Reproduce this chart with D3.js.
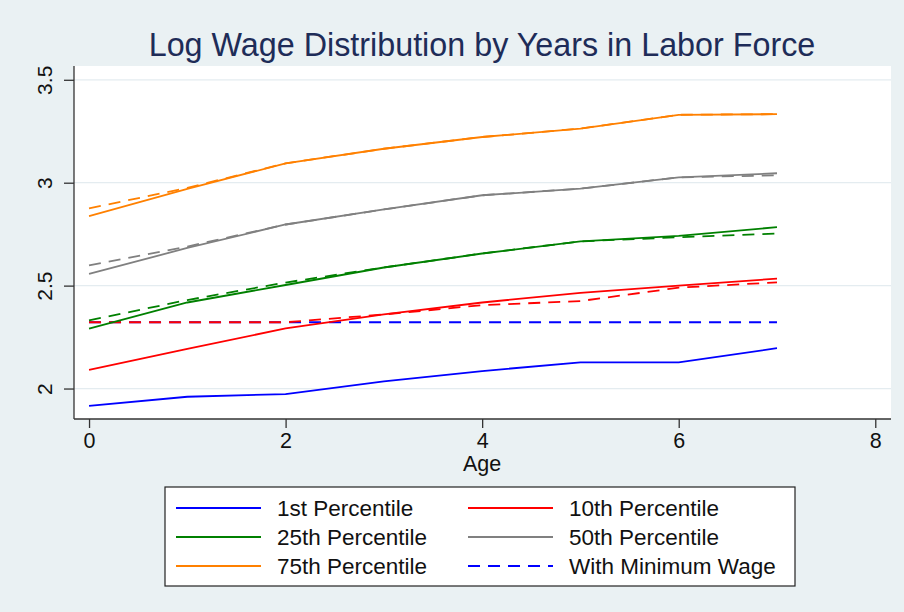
<!DOCTYPE html>
<html>
<head>
<meta charset="utf-8">
<script src="https://cdn.jsdelivr.net/npm/d3@7"></script>
<style>
  body { margin: 0; background: #eaf1f3; }
  svg text { font-family: "Liberation Sans", Arial, sans-serif; }
</style>
</head>
<body>
<svg id="chart" width="904" height="612"></svg>
<script>
// years in labor force
var years = [0, 1, 2, 3, 4, 5, 6, 7]

// log wage percentiles (solid) and with minimum wage (dashed)
var p1  = [1.916, 1.960, 1.973, 2.035, 2.085, 2.127, 2.127, 2.196]
var p10 = [2.091, 2.193, 2.292, 2.360, 2.418, 2.465, 2.500, 2.534]
var p25 = [2.291, 2.418, 2.503, 2.588, 2.656, 2.715, 2.742, 2.784]
var p50 = [2.557, 2.683, 2.797, 2.870, 2.939, 2.971, 3.026, 3.046]
var p75 = [2.838, 2.970, 3.094, 3.165, 3.222, 3.263, 3.330, 3.333]

var mw1  = [2.322, 2.322, 2.322, 2.322, 2.322, 2.322, 2.322, 2.322]
var mw10 = [2.322, 2.322, 2.322, 2.360, 2.405, 2.425, 2.490, 2.516]
var mw25 = [2.331, 2.430, 2.515, 2.588, 2.656, 2.715, 2.735, 2.753]
var mw50 = [2.598, 2.690, 2.797, 2.870, 2.939, 2.971, 3.026, 3.036]
var mw75 = [2.875, 2.975, 3.094, 3.165, 3.222, 3.263, 3.330, 3.333]

var xTicks = [0, 2, 4, 6, 8]
var yTicks = [2, 2.5, 3, 3.5]
var yTickLabels = ["2", "2.5", "3", "3.5"]

var legendLabels = ["1st Percentile", "10th Percentile", "25th Percentile",
                    "50th Percentile", "75th Percentile", "With Minimum Wage"]

var svg = d3.select("#chart")
var W = 904, H = 612
var plot = {left: 74, right: 891, top: 66, bottom: 419}

svg.append("rect").attr("width", W).attr("height", H).attr("fill", "#eaf1f3")
svg.append("rect")
  .attr("x", plot.left).attr("y", plot.top)
  .attr("width", plot.right - plot.left).attr("height", plot.bottom - plot.top)
  .attr("fill", "#ffffff")

var x = d3.scaleLinear().domain([-0.153, 8.16]).range([plot.left, plot.right])
var y = d3.scaleLinear().domain([1.852, 3.567]).range([plot.bottom, plot.top])

// grid
svg.append("g").selectAll("line").data(yTicks).enter().append("line")
  .attr("x1", plot.left).attr("x2", plot.right)
  .attr("y1", d => y(d)).attr("y2", d => y(d))
  .attr("stroke", "#e4ecf0").attr("stroke-width", 1.2)

// axes
var yAxis = d3.axisLeft(y).tickValues(yTicks).tickSize(10)
  .tickFormat((d, i) => yTickLabels[i])
var gy = svg.append("g").attr("transform", "translate(" + plot.left + ",0)").call(yAxis)
gy.select(".domain").attr("d", "M0," + plot.top + "V" + plot.bottom).attr("stroke", "#333").attr("stroke-width", 1.3)
gy.selectAll(".tick line").attr("stroke", "#333").attr("stroke-width", 1.3)
// stata-style rotated labels
gy.selectAll(".tick text").remove()
gy.selectAll(".tick").append("text")
  .attr("transform", "translate(-22,0) rotate(-90)")
  .attr("text-anchor", "middle")
  .attr("font-size", 21).attr("fill", "#111")
  .text((d, i) => yTickLabels[i])

var xAxis = d3.axisBottom(x).tickValues(xTicks).tickSize(9).tickPadding(5)
var gx = svg.append("g").attr("transform", "translate(0," + plot.bottom + ")").call(xAxis)
gx.select(".domain").attr("d", "M" + plot.left + ",0H" + plot.right).attr("stroke", "#333").attr("stroke-width", 1.3)
gx.selectAll(".tick line").attr("stroke", "#333").attr("stroke-width", 1.3)
gx.selectAll(".tick text").attr("font-size", 21.5).attr("fill", "#111")

svg.append("text").attr("x", x(4)).attr("y", 471)
  .attr("text-anchor", "middle").attr("font-size", 21.5).attr("fill", "#111")
  .text("Age")

// title
svg.append("text").attr("x", 482).attr("y", 56)
  .attr("text-anchor", "middle").attr("font-size", 32.3).attr("fill", "#1e2c58")
  .text("Log Wage Distribution by Years in Labor Force")

// series
var series = [
  {vals: mw1,  color: "#0000ff", dash: "12,8"},
  {vals: mw10, color: "#ff0000", dash: "12,8"},
  {vals: mw25, color: "#008000", dash: "12,8"},
  {vals: mw50, color: "#808080", dash: "12,8"},
  {vals: mw75, color: "#ff8000", dash: "12,8"},
  {vals: p1,   color: "#0000ff", dash: null},
  {vals: p10,  color: "#ff0000", dash: null},
  {vals: p25,  color: "#008000", dash: null},
  {vals: p50,  color: "#808080", dash: null},
  {vals: p75,  color: "#ff8000", dash: null}
]

var line = d3.line().x((d, i) => x(years[i])).y(d => y(d))

svg.append("g").selectAll("path").data(series).enter().append("path")
  .attr("d", d => line(d.vals))
  .attr("fill", "none")
  .attr("stroke", d => d.color)
  .attr("stroke-width", 1.8)
  .attr("stroke-dasharray", d => d.dash)

// legend
var legendItems = [
  {label: legendLabels[0], color: "#0000ff", dash: null},
  {label: legendLabels[1], color: "#ff0000", dash: null},
  {label: legendLabels[2], color: "#008000", dash: null},
  {label: legendLabels[3], color: "#808080", dash: null},
  {label: legendLabels[4], color: "#ff8000", dash: null},
  {label: legendLabels[5], color: "#0000ff", dash: "12,8"}
]

var lg = svg.append("g").attr("transform", "translate(165,487)")
lg.append("rect").attr("width", 630).attr("height", 99)
  .attr("fill", "#fff").attr("stroke", "#222").attr("stroke-width", 1.2)

var item = lg.selectAll(".item").data(legendItems).enter().append("g")
  .attr("class", "item")
  .attr("transform", (d, i) => "translate(" + (i % 2 ? 303 : 11) + "," + (21 + Math.floor(i / 2) * 29) + ")")
item.append("line").attr("x1", 0).attr("x2", 85)
  .attr("stroke", d => d.color).attr("stroke-width", 1.8)
  .attr("stroke-dasharray", d => d.dash)
item.append("text").attr("x", 101).attr("dy", "0.35em")
  .attr("font-size", 22.5).attr("fill", "#111")
  .text(d => d.label)
</script>
</body>
</html>
